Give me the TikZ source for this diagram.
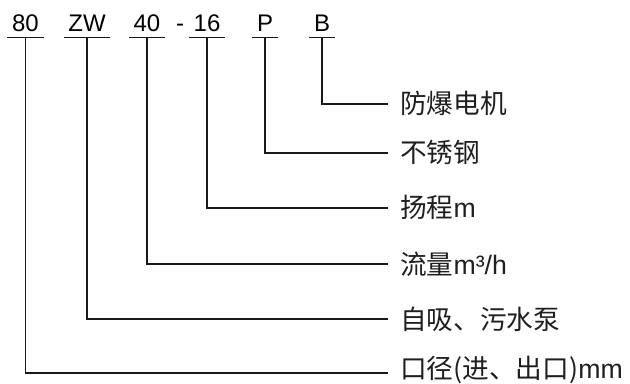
\documentclass[tikz,border=0pt]{standalone}
\usepackage{fontspec}
\setmainfont{Liberation Sans}
\newfontfamily\cjk{Noto Sans CJK SC}
\newfontfamily\latb{Liberation Sans}
\definecolor{LineClr}{rgb}{0.1,0.1,0.1}
\definecolor{TextClr}{rgb}{0.12,0.12,0.12}

\tikzset{
  code/.style={font=\fontsize{18}{20}\selectfont,anchor=base,
    inner xsep=3.4pt,inner ysep=3.75pt,text depth=0pt},
  lbl/.style={font=\cjk\fontsize{20}{22}\selectfont,anchor=west,
    inner xsep=9pt,text height=17pt,text depth=2pt,text=TextClr},
  lead/.style={line width=1.1pt,color=LineClr},
}

\begin{document}
\begin{tikzpicture}[x=0.75pt,y=-0.75pt]
\useasboundingbox (0,0) rectangle (630,384);

% model code
\node[code] (n80) at (25.5,32) {80};
\node[code] (nZW) at (87,32) {ZW};
\node[code] (n40) at (147,32) {40};
\node[code] (sep) at (180,32) {-};
\node[code] (n16) at (207,32) {16};
\node[code] (nP) at (265,32) {P};
\node[code] (nB) at (322,32) {B};

% meanings
\node[lbl] (tB) at (388,104) {防爆电机};
\node[lbl] (tP) at (388,153) {不锈钢};
\node[lbl] (t16) at (388,208) {扬程{\latb m}};
\node[lbl] (t40) at (388,264) {流量{\latb m³/h}};
\node[lbl] (tZW) at (388,319) {自吸、污水泵};
\node[lbl,text depth=9pt] (t80) at (388,373) {口径(进、出口){\latb mm}};

\foreach \c in {80,ZW,40,16,P,B}{
  \draw[lead] (n\c.south west) -- (n\c.south east);
  \draw[lead] (n\c.south) |- (t\c.west);
}

\end{tikzpicture}
\end{document}
